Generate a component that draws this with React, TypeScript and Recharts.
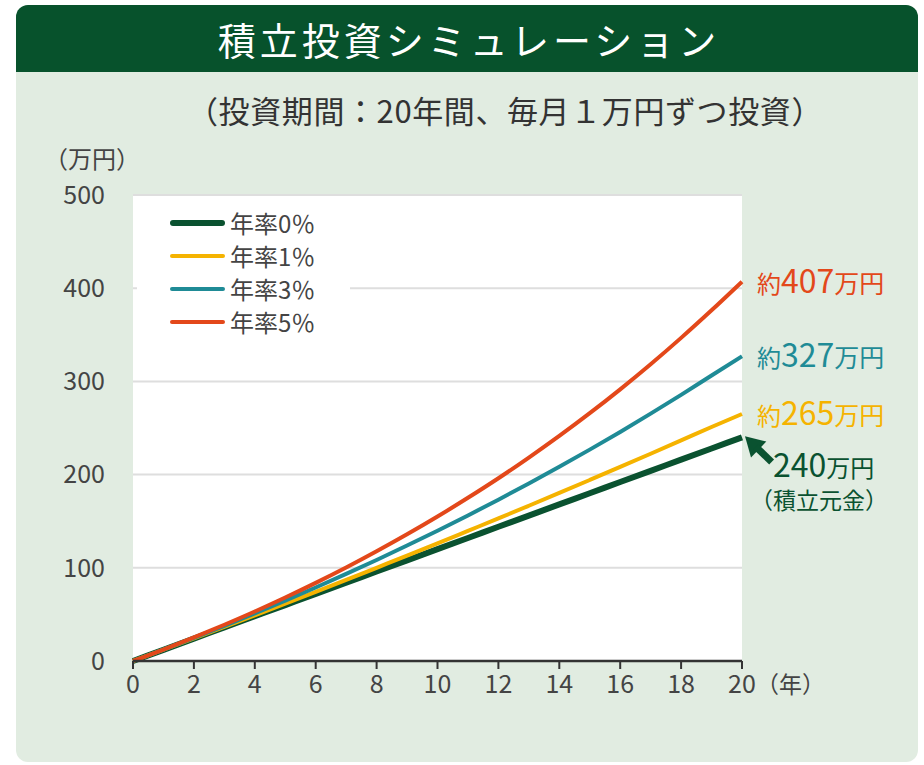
import React from "react";
import { LineChart, Line, XAxis, YAxis, CartesianGrid } from "recharts";

// years 0..20, values in 万円
const YEARS = [0, 1, 2, 3, 4, 5, 6, 7, 8, 9, 10, 11, 12, 13, 14, 15, 16, 17, 18, 19, 20];
const RATE_0 = [0, 12, 24, 36, 48, 60, 72, 84, 96, 108, 120, 132, 144, 156, 168, 180, 192, 204, 216, 228, 240];
const RATE_1 = [0, 12.1, 24.3, 36.6, 49.0, 61.6, 74.2, 87.0, 100.0, 113.0, 126.2, 139.6, 153.0, 166.6, 180.3, 194.2, 208.2, 222.4, 236.7, 251.1, 265];
const RATE_3 = [0, 12.2, 24.8, 37.7, 51.0, 64.7, 78.9, 93.4, 108.4, 123.9, 139.8, 156.2, 173.1, 190.4, 208.4, 226.8, 245.8, 265.4, 285.5, 306.3, 327];
const RATE_5 = [0, 12.3, 25.3, 38.9, 53.1, 68.1, 83.8, 100.3, 117.7, 135.9, 155.0, 175.1, 196.1, 218.3, 241.5, 265.9, 291.5, 318.4, 346.7, 376.3, 407];

const Y_TICKS = [0, 100, 200, 300, 400, 500];
const X_TICKS = [0, 2, 4, 6, 8, 10, 12, 14, 16, 18, 20];

const SERIES = [
  { key: "r0", name: "年率0％", color: "#0a5230", width: 6, end: "240" },
  { key: "r1", name: "年率1％", color: "#f5b300", width: 4, end: "265" },
  { key: "r3", name: "年率3％", color: "#1f8b96", width: 4, end: "327" },
  { key: "r5", name: "年率5％", color: "#e3481a", width: 4, end: "407" },
];

const data = YEARS.map((y, i) => ({
  year: y,
  r0: RATE_0[i],
  r1: RATE_1[i],
  r3: RATE_3[i],
  r5: RATE_5[i],
}));

const FONT = "'Noto Sans CJK JP', 'Noto Sans', sans-serif";
const CARD_BG = "#e1ece1";
const HEADER = "#07522c";
const LAST = YEARS.length - 1;

function XTick(props: any) {
  const { x, y, payload } = props;
  return (
    <g>
      <text x={x} y={y + 22} textAnchor="middle" fontSize={25} fill="#444" fontFamily={FONT}>
        {payload.value}
      </text>
      {payload.value === 20 && (
        <text x={x + 14} y={y + 22} fontSize={23} fill="#444" fontFamily={FONT}>
          （年）
        </text>
      )}
    </g>
  );
}

function LegendBox() {
  return (
    <div
      style={{
        position: "absolute",
        left: 137,
        top: 198,
        width: 213,
        background: "#fff",
        padding: "8px 0 6px 33px",
        boxSizing: "border-box",
        fontFamily: FONT,
      }}
    >
      {SERIES.map((s) => (
        <div key={s.key} style={{ display: "flex", alignItems: "center", height: 33 }}>
          <div style={{ width: 55, height: s.width, borderRadius: 3, background: s.color, marginRight: 5 }} />
          <span style={{ fontSize: 24, color: "#444" }}>{s.name}</span>
        </div>
      ))}
    </div>
  );
}

function endLabel(s: (typeof SERIES)[number]) {
  return (props: any) => {
    const { x, y, index } = props;
    if (index !== LAST) return null;
    if (s.key === "r0") {
      return (
        <g fontFamily={FONT} fill={s.color}>
          <g transform={`translate(${x + 3},${y - 1}) rotate(44)`}>
            <polygon points="0,0 19,-11 19,11" fill={s.color} />
            <rect x={15} y={-3.5} width={22} height={7} fill={s.color} />
          </g>
          <text x={x + 31} y={y + 40}>
            <tspan fontSize={32}>{s.end}</tspan>
            <tspan fontSize={24}>万円</tspan>
          </text>
          <text x={x + 8} y={y + 72} fontSize={23}>
            （積立元金）
          </text>
        </g>
      );
    }
    return (
      <text x={x + 15} y={y + 11} fontFamily={FONT} fill={s.color}>
        <tspan fontSize={24}>約</tspan>
        <tspan fontSize={32}>{s.end}</tspan>
        <tspan fontSize={25}>万円</tspan>
      </text>
    );
  };
}

export default function App() {
  return (
    <div style={{ position: "absolute", left: 0, top: 0, width: 924, height: 765, background: "#fff", fontFamily: FONT }}>
      {/* card */}
      <div
        style={{
          position: "absolute",
          left: 16,
          top: 5,
          width: 902,
          height: 757,
          background: CARD_BG,
          borderRadius: 12,
          overflow: "hidden",
        }}
      >
        <div
          style={{
            height: 67,
            background: HEADER,
            color: "#fff",
            fontSize: 38,
            letterSpacing: 4,
            paddingLeft: 4,
            display: "flex",
            alignItems: "center",
            justifyContent: "center",
          }}
        >
          積立投資シミュレーション
        </div>
      </div>

      <div
        style={{
          position: "absolute",
          left: 187,
          top: 87,
          fontSize: 31,
          letterSpacing: 0.6,
          color: "#333",
          whiteSpace: "nowrap",
        }}
      >
        （投資期間：20年間、毎月１万円ずつ投資）
      </div>
      <div style={{ position: "absolute", left: 44, top: 140, fontSize: 24, color: "#444", whiteSpace: "nowrap" }}>
        （万円）
      </div>

      <div style={{ position: "absolute", left: 0, top: 0 }}>
        <LineChart width={924} height={765} data={data} margin={{ top: 195, right: 182, bottom: 64, left: 73 }}>
          <CartesianGrid vertical={false} stroke="#dedede" strokeWidth={2} fill="#fff" fillOpacity={1} />
          <XAxis
            dataKey="year"
            type="number"
            domain={[0, 20]}
            ticks={X_TICKS}
            height={40}
            axisLine={{ stroke: "#333", strokeWidth: 2.5 }}
            tickLine={{ stroke: "#333", strokeWidth: 2 }}
            tickSize={8}
            tick={<XTick />}
            interval={0}
          />
          <YAxis
            domain={[0, 500]}
            ticks={Y_TICKS}
            width={60}
            axisLine={false}
            tickLine={false}
            tickSize={0}
            tickMargin={28}
            tick={{ fontSize: 25, fill: "#444", fontFamily: FONT }}
            interval={0}
          />
          {SERIES.map((s) => (
            <Line
              key={s.key}
              dataKey={s.key}
              name={s.name}
              stroke={s.color}
              strokeWidth={s.width}
              dot={false}
              activeDot={false}
              type="monotone"
              isAnimationActive={false}
              label={endLabel(s)}
            />
          ))}
        </LineChart>
      </div>
      <LegendBox />
    </div>
  );
}
